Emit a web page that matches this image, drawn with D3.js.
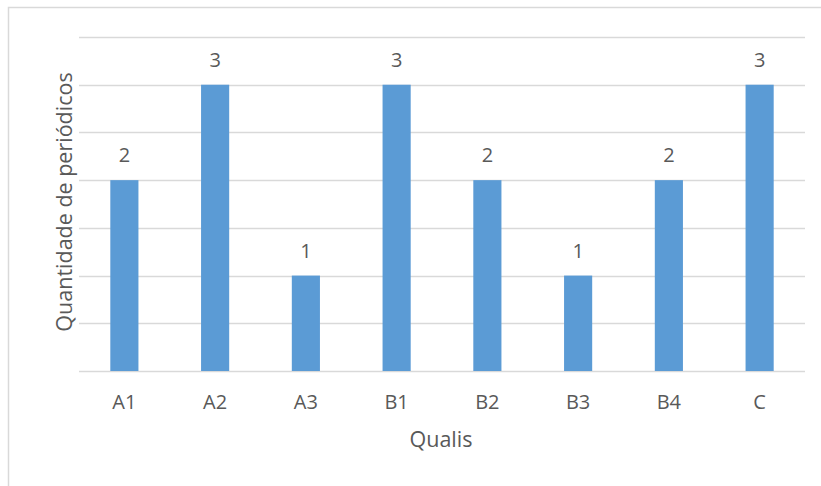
<!DOCTYPE html>
<html>
<head>
<meta charset="utf-8">
<script src="https://cdn.jsdelivr.net/npm/d3@7"></script>
<style>
  html, body { margin: 0; padding: 0; background: #fff; }
  svg { display: block; }
  text { font-family: "Open Sans", "Noto Sans", sans-serif; fill: #595959; }
</style>
</head>
<body>
<svg id="chart" width="821" height="486"></svg>
<script>
// Number of journals per Qualis stratum
const categories = ["A1", "A2", "A3", "B1", "B2", "B3", "B4", "C"];
const values = [2, 3, 1, 3, 2, 1, 2, 3];
const yMax = 3.5;
const yStep = 0.5;

const width = 821, height = 486;
const margin = { left: 79, right: 16, top: 37, bottom: 115 };

const svg = d3.select("#chart");

// Outer chart frame
svg.append("rect")
  .attr("x", 8.5).attr("y", 7.5)
  .attr("width", 830).attr("height", 500)
  .attr("fill", "#fff")
  .attr("stroke", "#d9d9d9")
  .attr("stroke-width", 1.5);

const x = d3.scaleBand()
  .domain(categories)
  .range([margin.left, width - margin.right])
  .paddingInner(0.69)
  .paddingOuter(0.345);

const y = d3.scaleLinear()
  .domain([0, yMax])
  .range([height - margin.bottom, margin.top]);

// Horizontal gridlines every half unit
const gridTicks = d3.range(0, yMax + yStep / 2, yStep);
svg.append("g")
  .attr("class", "grid")
  .selectAll("line")
  .data(gridTicks)
  .join("line")
  .attr("x1", margin.left)
  .attr("x2", width - margin.right)
  .attr("y1", d => Math.round(y(d)) + 0.5)
  .attr("y2", d => Math.round(y(d)) + 0.5)
  .attr("stroke", "#d9d9d9")
  .attr("stroke-width", 1.3);

// Bars
svg.append("g")
  .selectAll("rect")
  .data(categories.map((c, i) => ({ c, v: values[i] })))
  .join("rect")
  .attr("x", d => x(d.c))
  .attr("width", x.bandwidth())
  .attr("y", d => y(d.v))
  .attr("height", d => y(0) - y(d.v))
  .attr("fill", "#5b9bd5");

// Value labels above bars
svg.append("g")
  .selectAll("text")
  .data(categories.map((c, i) => ({ c, v: values[i] })))
  .join("text")
  .attr("x", d => x(d.c) + x.bandwidth() / 2)
  .attr("y", d => y(d.v) - 18)
  .attr("text-anchor", "middle")
  .style("font-size", "20px")
  .text(d => d.v);

// Category axis (labels only, baseline drawn by grid)
const xAxis = d3.axisBottom(x).tickSize(0).tickPadding(0);
const gx = svg.append("g")
  .attr("transform", `translate(0,${y(0)})`)
  .call(xAxis);
gx.select(".domain").remove();
gx.selectAll("text")
  .attr("y", 38)
  .attr("dy", null)
  .style("font-size", "20px")
  .style("font-family", "\"Open Sans\", \"Noto Sans\", sans-serif")
  .attr("fill", "#595959");

// Axis titles
svg.append("text")
  .attr("x", 441)
  .attr("y", 447)
  .attr("text-anchor", "middle")
  .style("font-size", "21.5px")
  .text("Qualis");

svg.append("text")
  .attr("transform", "translate(72,202) rotate(-90)")
  .attr("text-anchor", "middle")
  .style("font-size", "21.5px")
  .text("Quantidade de periódicos");
</script>
</body>
</html>
